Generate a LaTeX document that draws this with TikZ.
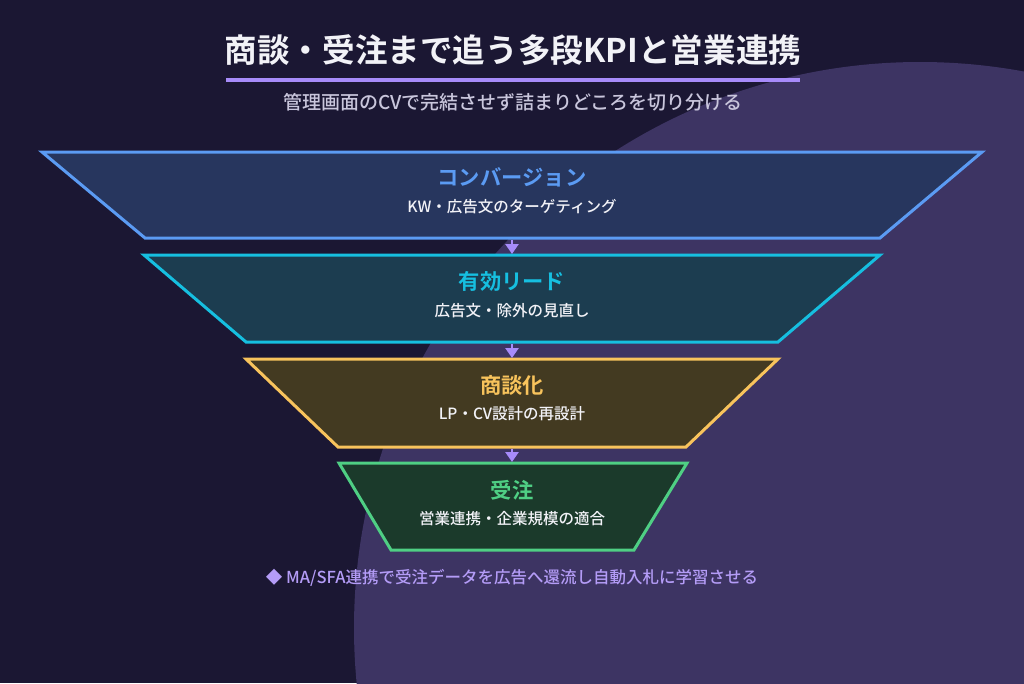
\documentclass[tikz,border=0pt]{standalone}
\usepackage{fontspec}
\setmainfont{Noto Sans CJK JP}[BoldFont={* Bold}]
\newfontfamily\mediumfont{Noto Sans CJK JP Medium}
\usepackage{xcolor}
\usetikzlibrary{calc,arrows.meta,positioning}
\definecolor{bgNavy}{HTML}{1B1733}
\definecolor{bgPurple}{HTML}{3D3463}
\definecolor{titleWhite}{HTML}{F2F2F7}
\definecolor{accentPurple}{HTML}{A78BFA}
\definecolor{subGray}{HTML}{C9C6DC}
\definecolor{footPurple}{HTML}{B49CF7}
\definecolor{convLine}{HTML}{5B9BF3}
\definecolor{convFill}{HTML}{27365E}
\definecolor{leadLine}{HTML}{16BFE0}
\definecolor{leadFill}{HTML}{1C3D50}
\definecolor{dealLine}{HTML}{F8C35C}
\definecolor{dealFill}{HTML}{433A21}
\definecolor{orderLine}{HTML}{4FCF84}
\definecolor{orderFill}{HTML}{1B3A2B}

\tikzset{
  stagehead/.style={font=\bfseries\fontsize{21.3}{25}\selectfont, anchor=center},
  stagetext/.style={text=titleWhite, font=\mediumfont\fontsize{15.5}{18}\selectfont, anchor=center},
  stagearrow/.style={accentPurple, line width=2.5pt, -{Triangle[width=13pt,length=10pt]}},
}

\begin{document}
\begin{tikzpicture}[x=1pt, y=-1pt]
\useasboundingbox (0,0) rectangle (1024,683);
\fill[bgNavy] (0,0) rectangle (1024,683);
\begin{scope}
  \clip (0,0) rectangle (1024,683);
  \fill[bgPurple] (920,628) circle (566);
\end{scope}

% title block
\node[text=titleWhite, font=\bfseries\fontsize{32.6}{38}\selectfont] (title) at (513,50) {商談・受注まで追う多段KPIと営業連携};
\draw[accentPurple, line width=4pt] (226,80) -- (800,80);
\node[text=subGray, font=\mediumfont\fontsize{19}{22}\selectfont] (subtitle) at (513,102) {管理画面のCVで完結させず詰まりどころを切り分ける};

% funnel stages
\foreach \name/\ytop/\ybot/\xtl/\xtr/\xbl/\xbr/\col in {%
  conv/152/238/42/982/145/880/conv,
  lead/255/342/144/880/246/778/lead,
  deal/359/447/246/778/338/686/deal,
  order/463/550/339/687/391/634/order}
{
  \filldraw[fill=\col Fill, draw=\col Line, line width=3pt, line join=miter]
    (\xtl,\ytop) -- (\xtr,\ytop) -- (\xbr,\ybot) -- (\xbl,\ybot) -- cycle;
  \coordinate (\name-top) at (512,\ytop);
  \coordinate (\name-bot) at (512,\ybot);
}

\node[stagehead, text=convLine] (convhead) at (512,177) {コンバージョン};
\node[stagetext] (convtext) at (512,207) {KW・広告文のターゲティング};
\node[stagehead, text=leadLine] (leadhead) at (512,281) {有効リード};
\node[stagetext] (leadtext) at (512,311) {広告文・除外の見直し};
\node[stagehead, text=dealLine] (dealhead) at (512,385) {商談化};
\node[stagetext] (dealtext) at (512,414) {LP・CV設計の再設計};
\node[stagehead, text=orderLine] (orderhead) at (512,490) {受注};
\node[stagetext] (ordertext) at (512,519) {営業連携・企業規模の適合};

% arrows between stages
\draw[stagearrow] ($(conv-bot)+(0,2)$) -- ($(lead-top)+(0,-1)$);
\draw[stagearrow] ($(lead-bot)+(0,2)$) -- ($(deal-top)+(0,-1)$);
\draw[stagearrow] ($(deal-bot)+(0,2)$) -- ($(order-top)+(0,-1)$);

\node[text=footPurple, font=\mediumfont\fontsize{16.5}{20}\selectfont] (footnote) at (512,578) {◆ MA/SFA連携で受注データを広告へ還流し自動入札に学習させる};
\end{tikzpicture}
\end{document}
